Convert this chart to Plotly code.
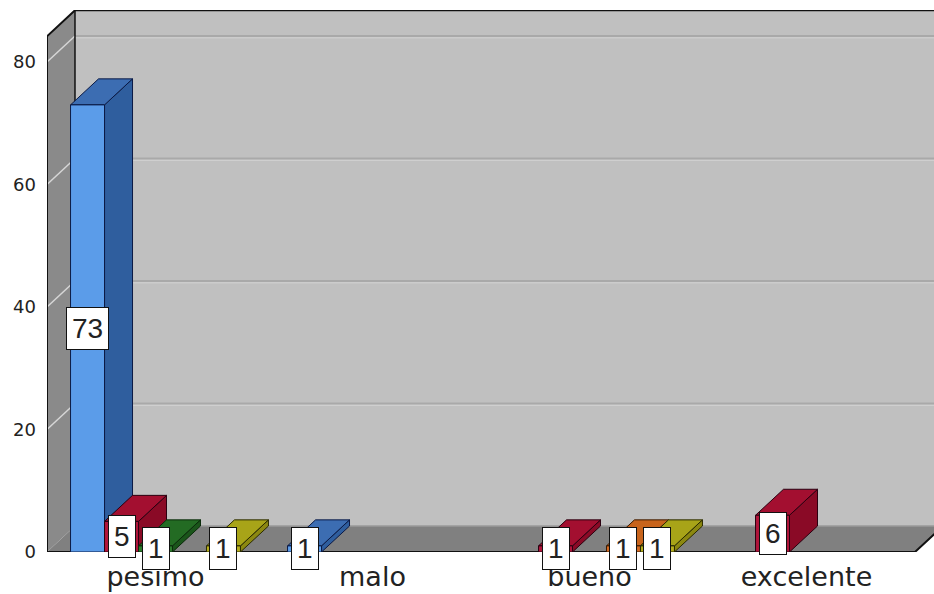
import plotly.graph_objects as go

# Categories on the x axis and the five series drawn in each group
categories = ["pesimo", "malo", "bueno", "excelente"]
series_names = ["Serie 1", "Serie 2", "Serie 3", "Serie 4", "Serie 5"]
values = [
    [73, 1, 0, 0],   # Serie 1 (blue)
    [5, 0, 1, 6],    # Serie 2 (red)
    [1, 0, 0, 0],    # Serie 3 (green)
    [0, 0, 1, 0],    # Serie 4 (orange)
    [1, 0, 1, 0],    # Serie 5 (yellow)
]
y_ticks = [0, 20, 40, 60, 80]

# Face colours per series: front, top, side
front_col = ["#5b9ce9", "#b0143a", "#2c7c2c", "#d46a22", "#b6ae1e"]
top_col = ["#3c6db2", "#a30f30", "#236b23", "#c8641c", "#a8a418"]
side_col = ["#2f5e9e", "#8a0a26", "#1a551a", "#a85210", "#8c8810"]
edge_col = ["#0b1a45", "#2a0010", "#0a2a0a", "#3a1a00", "#2a2a00"]

# Geometry of the pseudo-3D box (data units)
X_MIN, X_MAX = -0.5, 3.5
Y_TOP = 84.2
DX, DY = 0.129, 4.245
GROUP_W = 0.783
n_series = len(values)
bar_w = GROUP_W / n_series

fig = go.Figure()


def poly(xs, ys, fill, line_col, width=1):
    fig.add_trace(go.Scatter(
        x=list(xs) + [xs[0]], y=list(ys) + [ys[0]],
        mode="lines", fill="toself", fillcolor=fill,
        line=dict(color=line_col, width=width),
        hoverinfo="skip", showlegend=False))


def line(xs, ys, col, width=1):
    fig.add_trace(go.Scatter(
        x=xs, y=ys, mode="lines", line=dict(color=col, width=width),
        hoverinfo="skip", showlegend=False))


# Back wall
poly([X_MIN + DX, X_MAX + DX + 0.3, X_MAX + DX + 0.3, X_MIN + DX],
     [DY, DY, Y_TOP + DY, Y_TOP + DY], "#c0c0c0", "rgba(0,0,0,0)")
# Gridlines on the back wall and the left wall
for t in y_ticks[1:]:
    line([X_MIN + DX, X_MAX + DX + 0.3], [t + DY, t + DY], "#a9a9a9", 2)
    line([X_MIN + DX, X_MAX + DX + 0.3], [t + DY - 0.3, t + DY - 0.3], "#d2d2d2", 1)
# Left wall
poly([X_MIN, X_MIN + DX, X_MIN + DX, X_MIN],
     [0, DY, Y_TOP + DY, Y_TOP], "#8a8a8a", "rgba(0,0,0,0)")
for t in y_ticks[1:]:
    line([X_MIN, X_MIN + DX], [t, t + DY], "#d6d6d6", 1.5)
# Floor
poly([X_MIN, X_MAX, X_MAX + DX, X_MIN + DX],
     [0, 0, DY, DY], "#808080", "rgba(0,0,0,0)")
line([X_MIN + DX, X_MAX + DX + 0.3], [DY, DY], "#9a9a9a", 1.5)

# Box outline
line([X_MIN, X_MIN, X_MIN + DX, X_MAX + DX + 0.3], [0, Y_TOP, Y_TOP + DY, Y_TOP + DY], "#111111", 2)
line([X_MIN + DX, X_MIN + DX], [DY, Y_TOP + DY], "#111111", 1.5)
line([X_MIN, X_MAX, X_MAX + DX], [0, 0, DY], "#111111", 2)

# Bars, painted left to right so each front face hides its neighbour's side
labels = []
for c in range(len(categories)):
    for s in range(n_series):
        v = values[s][c]
        if v <= 0:
            continue
        x0 = c - GROUP_W / 2 + s * bar_w
        x1 = x0 + bar_w
        poly([x1, x1 + DX, x1 + DX, x1], [0, DY, v + DY, v], side_col[s], edge_col[s])
        poly([x0, x1, x1 + DX, x0 + DX], [v, v, v + DY, v + DY], top_col[s], edge_col[s])
        poly([x0, x1, x1, x0], [0, 0, v, v], front_col[s], edge_col[s])
        labels.append(((x0 + x1) / 2, v / 2, v))

for x, y, v in labels:
    fig.add_annotation(
        x=x, y=y, text=str(v), showarrow=False,
        font=dict(family="Liberation Sans, Arial", size=28, color="#222222"),
        bgcolor="white", bordercolor="#111111", borderwidth=1, borderpad=5)

plot_w = 934 - 47
fig.update_layout(
    width=934, height=594,
    margin=dict(l=47, r=0, t=10, b=42),
    paper_bgcolor="white", plot_bgcolor="white",
    showlegend=False,
    xaxis=dict(
        range=[X_MIN, X_MIN + plot_w / 217.0],
        tickvals=list(range(len(categories))), ticktext=categories,
        showgrid=False, zeroline=False, showline=False, ticks="",
        ticklabelstandoff=6,
        tickfont=dict(family="DejaVu Sans", size=27, color="#222222"),
        fixedrange=True),
    yaxis=dict(
        range=[0, 542 / 6.125],
        tickvals=y_ticks, showgrid=False, zeroline=False, showline=False,
        ticks="", ticklabelstandoff=10,
        tickfont=dict(family="DejaVu Sans", size=18, color="#222222"),
        fixedrange=True),
)

fig.write_html("out.html")
